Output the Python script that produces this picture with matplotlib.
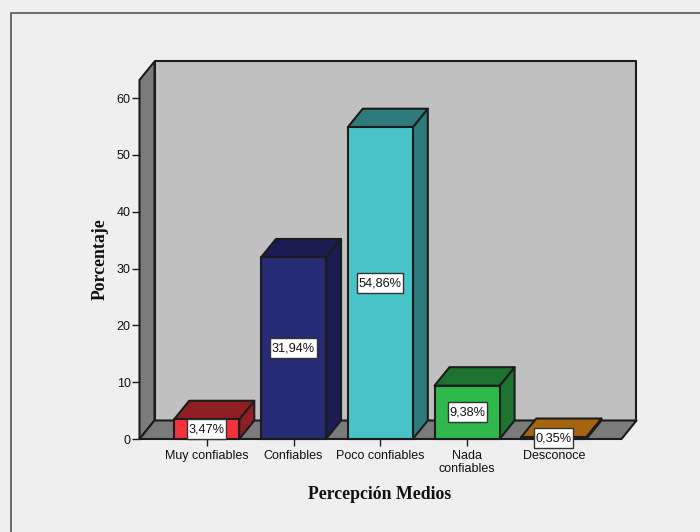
import matplotlib
matplotlib.use("Agg")
import matplotlib.pyplot as plt
from matplotlib.patches import Polygon
from matplotlib.path import Path

categories = ["Muy confiables", "Confiables", "Poco confiables", "Nada\nconfiables", "Desconoce"]
values = [3.47, 31.94, 54.86, 9.38, 0.35]
labels = ["3,47%", "31,94%", "54,86%", "9,38%", "0,35%"]
front_colors = ["#f2333c", "#272a75", "#48c3c8", "#2fb84c", "#a5640f"]
side_colors = ["#8f1f22", "#1a1c52", "#2e7a7d", "#1e7330", "#a5640f"]
y_ticks = [0, 10, 20, 30, 40, 50, 60]

W, H = 700, 532
# pixel box of the front plane
LEFT, RIGHT, BOTTOM, TOP = 139.5, 621.5, 439.0, 80.0
XMIN, XMAX = -0.775, 4.78
YMAX = (BOTTOM - TOP) / 5.683

fig = plt.figure(figsize=(W / 100, H / 100), dpi=100, facecolor="#efefef")
ax = fig.add_axes([LEFT / W, 1 - BOTTOM / H, (RIGHT - LEFT) / W, (BOTTOM - TOP) / H])
ax.set_xlim(XMIN, XMAX)
ax.set_ylim(0, YMAX)
ax.patch.set_visible(False)
for s in ax.spines.values():
    s.set_visible(False)

# depth of the fake 3d box, in data units
dx = 15.0 / (RIGHT - LEFT) * (XMAX - XMIN)
dy = 18.5 / 5.683
edge = "#1c1c1c"


def poly(pts, fc, lw=1.5, z=1):
    ax.add_patch(Polygon(pts, closed=True, fc=fc, ec=edge, lw=lw, zorder=z,
                         clip_on=False, joinstyle="round"))


# value boxes are taller than the stock square style allows
def label_box(x0, y0, width, height, mutation_size):
    px, py = 1.5, 4.0
    l, r, b, t = x0 - px, x0 + width + px, y0 - py, y0 + height + py
    return Path([(l, b), (r, b), (r, t), (l, t), (l, b)], closed=True)


# back wall, left wall, floor
poly([(XMIN + dx, dy), (XMAX + dx, dy), (XMAX + dx, YMAX + dy), (XMIN + dx, YMAX + dy)], "#c0c0c0")
poly([(XMIN, 0), (XMIN + dx, dy), (XMIN + dx, YMAX + dy), (XMIN, YMAX)], "#7b7b7b")
poly([(XMIN, 0), (XMAX, 0), (XMAX + dx, dy), (XMIN + dx, dy)], "#7b7b7b")

bar_w = 0.75
for i, v in enumerate(values):
    x0, x1 = i - bar_w / 2, i + bar_w / 2
    poly([(x1, 0), (x1 + dx, dy), (x1 + dx, v + dy), (x1, v)], side_colors[i], z=3)
    poly([(x0, v), (x1, v), (x1 + dx, v + dy), (x0 + dx, v + dy)], side_colors[i], z=3)
    poly([(x0, 0), (x1, 0), (x1, v), (x0, v)], front_colors[i], z=4)
    ax.text(i, v / 2, labels[i], ha="center", va="center", fontsize=9.2, color="#111111",
            family="Liberation Sans", zorder=6,
            bbox=dict(boxstyle=label_box, fc="white", ec="#333333", lw=1))

ax.set_xticks(range(len(categories)))
ax.set_xticklabels(categories, fontsize=9, family="Liberation Sans", color="#111111", linespacing=1.15)
ax.set_yticks(y_ticks)
ax.set_yticklabels(y_ticks, fontsize=9, family="Liberation Sans", color="#111111")
ax.tick_params(axis="x", length=5, width=1, color=edge, pad=2.6)
ax.tick_params(axis="y", length=5.8, width=1, color=edge, pad=0.5)

fig.text(380 / W, 1 - 494.5 / H, "Percepción Medios", ha="center", va="center",
         fontsize=12.8, fontweight="bold", family="Liberation Serif", color="#111111")
fig.text(100 / W, 1 - 259.5 / H, "Porcentaje", ha="center", va="center", rotation=90,
         fontsize=12.8, fontweight="bold", family="Liberation Serif", color="#111111")

# outer frame runs off the right and bottom edges
fig.add_artist(plt.Line2D([10.5 / W, 10.5 / W, 1], [0, 1 - 12.5 / H, 1 - 12.5 / H], color="#555555", lw=1.2))

fig.savefig("out.png", dpi=100, facecolor=fig.get_facecolor())
